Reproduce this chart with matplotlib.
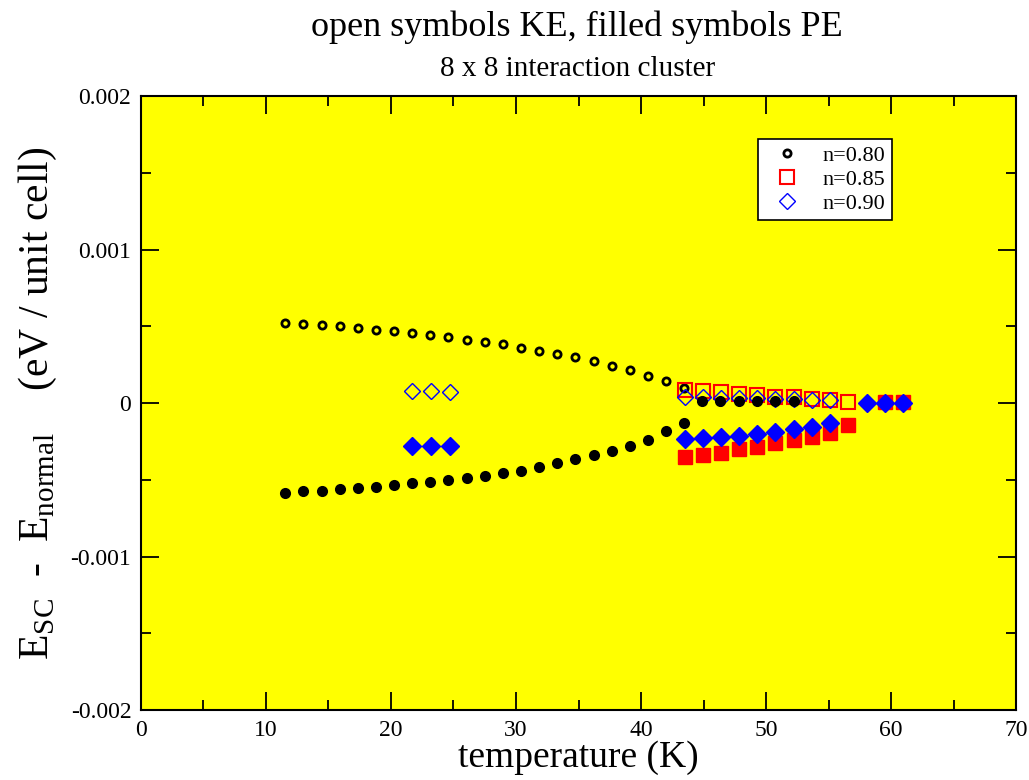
import numpy as np
import matplotlib
matplotlib.use('Agg')
import matplotlib.pyplot as plt
from matplotlib.ticker import MultipleLocator, FuncFormatter

plt.rcParams['font.family'] = ['Liberation Serif', 'DejaVu Serif']
plt.rcParams['mathtext.fontset'] = 'custom'
plt.rcParams['mathtext.rm'] = 'Liberation Serif'
plt.rcParams['axes.unicode_minus'] = False

# temperatures (K)
T_low = [11.5, 13.0, 14.45, 15.9, 17.35, 18.8, 20.25, 21.7, 23.15, 24.6, 26.05, 27.5,
         28.95, 30.4, 31.85, 33.3, 34.75, 36.2, 37.65, 39.1, 40.55, 42.0, 43.45]
T_high = [43.5, 44.95, 46.4, 47.85, 49.3, 50.75, 52.2, 53.65, 55.1, 56.55, 58.05, 59.5, 60.95]
T_090_low = [21.7, 23.2, 24.7]

# n=0.80 (values in 1e-3 eV / unit cell)
ke_080 = [0.52, 0.513, 0.51, 0.502, 0.49, 0.478, 0.466, 0.455, 0.443, 0.428, 0.41, 0.395,
          0.382, 0.36, 0.338, 0.322, 0.300, 0.274, 0.240, 0.213, 0.178, 0.143, 0.096]
pe_080 = [-0.584, -0.575, -0.572, -0.562, -0.551, -0.547, -0.534, -0.520, -0.512, -0.502,
          -0.491, -0.478, -0.456, -0.440, -0.415, -0.393, -0.367, -0.341, -0.311, -0.283,
          -0.241, -0.185, -0.128]
T_080_hi = [44.9, 46.35, 47.8, 49.25, 50.7, 52.2]
pe_080_hi = [0.012, 0.012, 0.012, 0.012, 0.012, 0.012]

# n=0.85
T_085_ke = T_high[:10]
ke_085 = [0.088, 0.079, 0.074, 0.061, 0.050, 0.041, 0.037, 0.028, 0.018, 0.008]
T_085_pe = T_high[:10] + [59.5, 60.95]
pe_085 = [-0.350, -0.339, -0.324, -0.302, -0.289, -0.263, -0.241, -0.220, -0.193, -0.143,
          0.005, 0.005]

# n=0.90
T_090_ke = T_090_low + T_high[:9]
ke_090 = [0.080, 0.080, 0.074, 0.040, 0.041, 0.031, 0.031, 0.031, 0.028, 0.024, 0.020, 0.020]
T_090_pe = T_090_low + T_high[:9] + T_high[10:]
pe_090 = [-0.278, -0.278, -0.278, -0.236, -0.230, -0.223, -0.215, -0.202, -0.189, -0.171,
          -0.154, -0.132, 0.003, 0.003, 0.003]

s = 1e-3

fig = plt.figure(figsize=(10.29, 7.80), dpi=100)
ax = fig.add_axes([0.137, 0.0897, 0.8504, 0.7872])
ax.set_facecolor('#ffff00')

# open symbols: kinetic energy
ax.plot(T_low, np.array(ke_080) * s, 'o', ms=5.2, mfc='none', mec='black', mew=2.0,
        ls='none', label='n=0.80')
ax.plot(T_085_ke, np.array(ke_085) * s, 's', ms=9.5, mfc='none', mec='red', mew=1.5,
        ls='none', label='n=0.85')
ax.plot(T_090_ke, np.array(ke_090) * s, 'D', ms=8.2, mfc='none', mec='blue', mew=1.0,
        ls='none', label='n=0.90')

# filled symbols: potential energy
ax.plot(T_low + T_080_hi, np.array(pe_080 + pe_080_hi) * s, 'o', ms=6.5, mfc='black',
        mec='black', mew=1.5, ls='none')
ax.plot(T_085_pe, np.array(pe_085) * s, 's', ms=9.5, mfc='red', mec='red', mew=1.0,
        ls='none')
ax.plot(T_090_pe, np.array(pe_090) * s, 'D', ms=9, mfc='blue', mec='blue', mew=1.0,
        ls='none')

ax.set_xlim(0, 70)
ax.set_ylim(-0.002, 0.002)
ax.xaxis.set_major_locator(MultipleLocator(10))
ax.xaxis.set_minor_locator(MultipleLocator(5))
ax.yaxis.set_major_locator(MultipleLocator(0.001))
ax.yaxis.set_minor_locator(MultipleLocator(0.0005))
ax.yaxis.set_major_formatter(FuncFormatter(lambda v, p: '%g' % round(v, 6)))

ax.tick_params(which='both', direction='in', top=True, right=True, width=1.3,
               labelsize=17, colors='black')
ax.tick_params(which='major', length=13, pad=7)
ax.tick_params(which='minor', length=7)
for sp in ax.spines.values():
    sp.set_linewidth(1.5)

ax.set_xlabel('temperature (K)', fontsize=27, labelpad=0)
ax.set_ylabel(r'E$_{\rm SC}$  -  E$_{\rm normal}$    (eV / unit cell)', fontsize=30,
              labelpad=8)

fig.text(0.561, 0.965, 'open symbols KE, filled symbols PE', fontsize=26,
         ha='center', va='center')
fig.text(0.561, 0.911, '8 x 8 interaction cluster', fontsize=21,
         ha='center', va='center')

leg = ax.legend(loc='upper right', bbox_to_anchor=(0.858, 0.930), numpoints=1,
                fontsize=16, fancybox=False, edgecolor='black', framealpha=1,
                borderpad=0.28, labelspacing=0.15, handlelength=2.1, handletextpad=0.55,
                borderaxespad=0)
leg.get_frame().set_linewidth(1.2)

fig.savefig('out.png', dpi=100)
